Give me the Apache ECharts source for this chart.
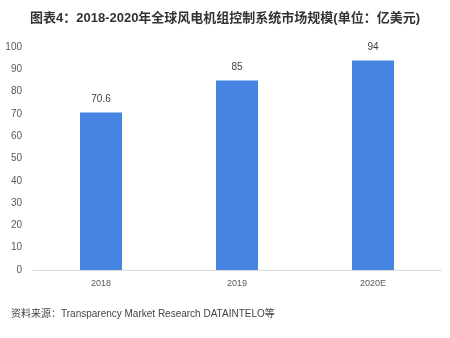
<!DOCTYPE html>
<html><head><meta charset="utf-8">
<script src="https://cdn.jsdelivr.net/npm/echarts@6/dist/echarts.min.js"></script>
<style>html,body{margin:0;padding:0;background:#fff}#c{width:450px;height:338px}</style>
</head><body><div id="c"></div>
<script>
const categories = ['2018', '2019', '2020E'];
const values = [70.6, 85, 94];
const valueLabels = ['70.6', '85', '94'];
const titleText = '图表4：2018-2020年全球风电机组控制系统市场规模(单位：亿美元)';
const sourceText = '资料来源：Transparency Market Research DATAINTELO等';

const chart = echarts.init(document.getElementById('c'));
chart.setOption({
  backgroundColor: '#fff',
  animation: false,
  title: [{
    text: titleText, left: 'center', top: 7,
    textStyle: {fontSize: 13, fontWeight: 'bold', color: '#333', fontFamily: 'Liberation Sans, Noto Sans CJK SC'}
  }, {
    text: sourceText, left: 6, top: 304,
    textStyle: {fontSize: 10, fontWeight: 'normal', color: '#444', fontFamily: 'Liberation Sans, Noto Sans CJK SC'}
  }],
  grid: {left: 33, right: 9, top: 47, bottom: 68, containLabel: false},
  xAxis: {
    type: 'category', data: categories,
    axisLine: {lineStyle: {color: '#d9d9d9'}},
    axisTick: {show: false},
    axisLabel: {color: '#595959', fontSize: 9, margin: 9, fontFamily: 'Liberation Sans'}
  },
  yAxis: {
    type: 'value', min: 0, max: 100, interval: 10,
    axisLine: {show: false}, axisTick: {show: false},
    splitLine: {show: false},
    axisLabel: {color: '#595959', fontSize: 10, margin: 11, fontFamily: 'Liberation Sans'}
  },
  series: [{
    type: 'bar', data: values, barWidth: 42,
    itemStyle: {color: '#4584e0'},
    label: {show: true, position: 'top', distance: 8, color: '#404040', fontSize: 10,
      fontFamily: 'Liberation Sans',
      formatter: p => valueLabels[p.dataIndex]}
  }]
});
</script></body></html>
